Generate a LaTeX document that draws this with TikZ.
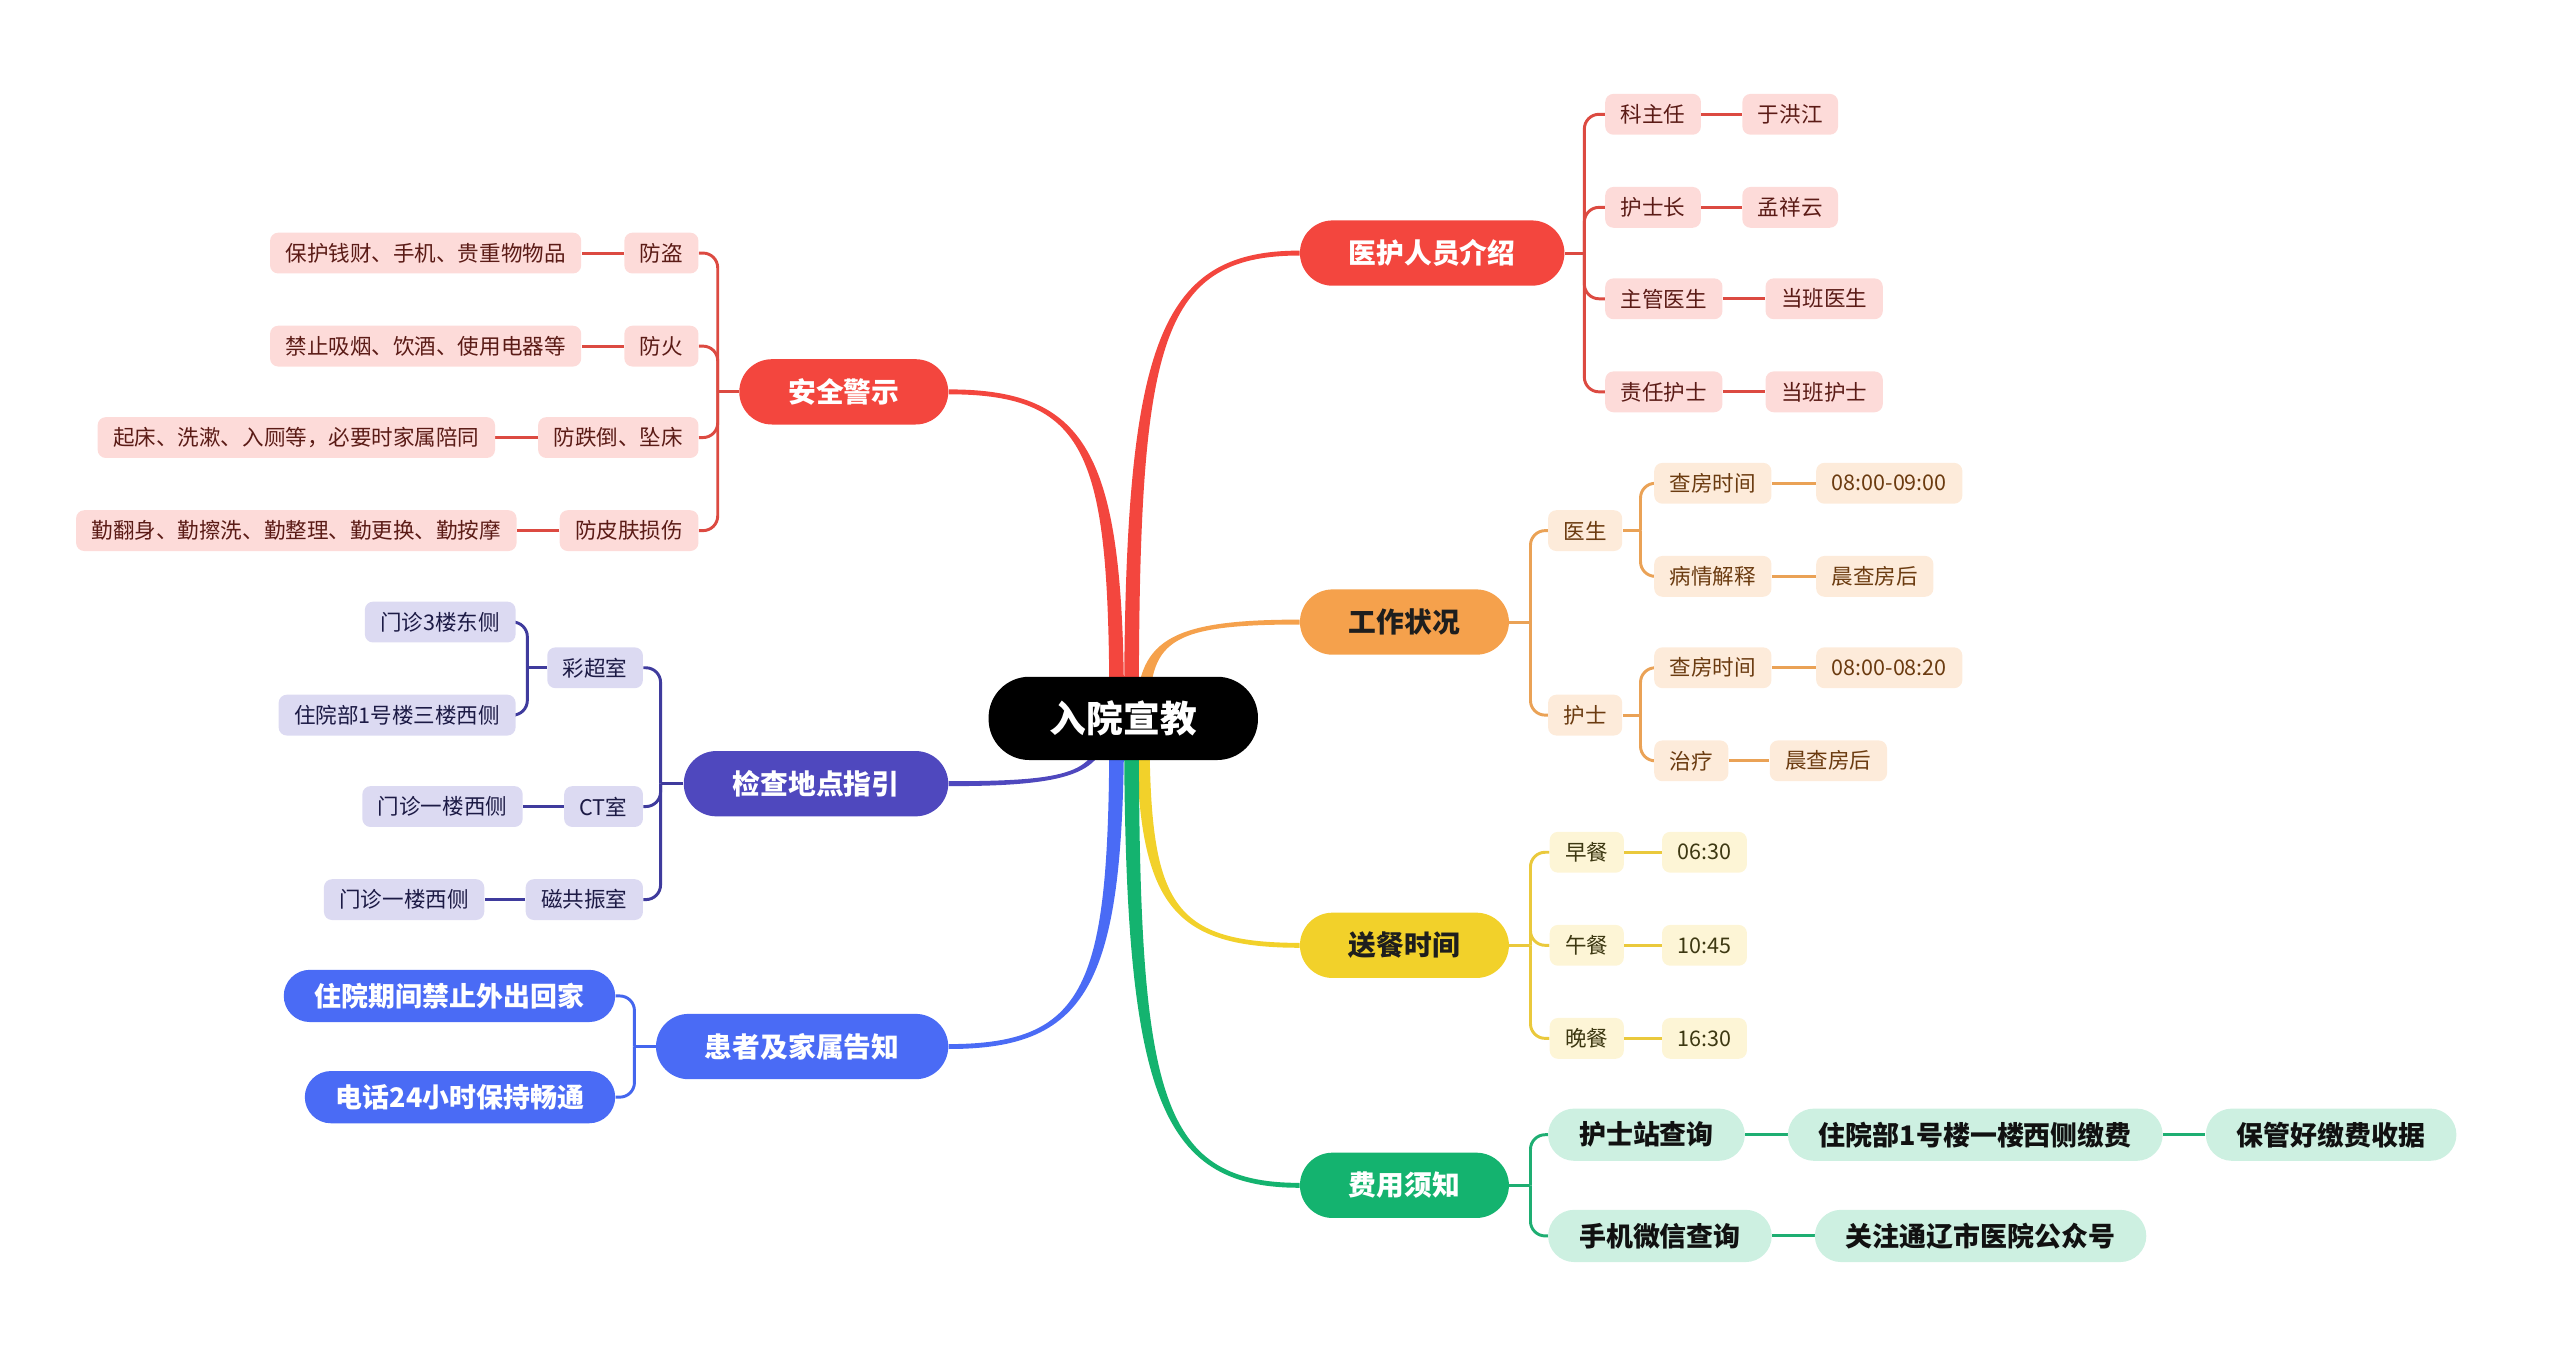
\documentclass[tikz,border=0pt]{standalone}
\usepackage{fontspec}
\setmainfont{Noto Sans CJK SC}
\usetikzlibrary{calc,backgrounds}
\definecolor{cRed}{HTML}{F3463E}
\definecolor{rFill}{HTML}{FDDBD9}
\definecolor{rText}{HTML}{5B1B16}
\definecolor{rLine}{HTML}{DC4A41}
\definecolor{cOrange}{HTML}{F5A14C}
\definecolor{oFill}{HTML}{FDEBDA}
\definecolor{oText}{HTML}{6B3B10}
\definecolor{oLine}{HTML}{EAA256}
\definecolor{cYellow}{HTML}{F2D12A}
\definecolor{yFill}{HTML}{FDF5D6}
\definecolor{yText}{HTML}{3D3812}
\definecolor{yLine}{HTML}{EAC93C}
\definecolor{cGreen}{HTML}{14B36F}
\definecolor{gFill}{HTML}{CDF0E1}
\definecolor{gText}{HTML}{111111}
\definecolor{gLine}{HTML}{1EAE72}
\definecolor{cIndigo}{HTML}{4F48BE}
\definecolor{iFill}{HTML}{DCDAF2}
\definecolor{iText}{HTML}{1C1A45}
\definecolor{iLine}{HTML}{3F3B9D}
\definecolor{cBlue}{HTML}{4A6BF5}
\definecolor{bLine}{HTML}{4466EE}
\definecolor{cDark}{HTML}{1E1E1E}
% tapered main connector: colour, start, end, start half width, end half width, side sign
\newcommand\taper[6]{%
  \fill[#1] let \p1=(#2), \p2=(#3) in
    (\x1-#4,\y1) .. controls (\x1-#4,{0.2*\y1+0.8*\y2}) and ({0.85*\x1+0.15*\x2},{\y2+(#6)*(#5)}) .. (\x2,{\y2+(#6)*(#5)})
    -- (\x2,{\y2-(#6)*(#5)}) .. controls ({0.85*\x1+0.15*\x2},{\y2-(#6)*(#5)}) and (\x1+#4,{0.2*\y1+0.8*\y2}) .. (\x1+#4,\y1) -- cycle;}
\begin{document}
\begin{tikzpicture}[x=1pt,y=-1pt,
  rootbox/.style={fill=black,text=white,rounded corners=25pt,minimum width=165pt,minimum height=51pt,inner sep=0pt,font=\bfseries\fontsize{22.5}{22.5}\selectfont},
  branch/.style={rounded corners=20pt,minimum height=40pt,inner xsep=30pt,inner ysep=0pt,font=\bfseries\fontsize{17}{17}\selectfont},
  leafbox/.style={rounded corners=5pt,minimum height=25pt,inner xsep=9.5pt,inner ysep=0pt,font=\fontsize{13.2}{13.2}\selectfont},
  bigleaf/.style={rounded corners=16pt,minimum height=32pt,inner xsep=19pt,inner ysep=0pt,font=\bfseries\fontsize{16.5}{16.5}\selectfont},
  redbox/.style={leafbox,fill=rFill,text=rText},
  orangebox/.style={leafbox,fill=oFill,text=oText},
  yellowbox/.style={leafbox,fill=yFill,text=yText},
  indigobox/.style={leafbox,fill=iFill,text=iText},
  greenbox/.style={bigleaf,fill=gFill,text=gText},
  bluebox/.style={bigleaf,fill=cBlue,text=white},
  conn/.style={line width=1.8pt},
  bracket/.style={conn,rounded corners=9pt},
  R/.style={anchor=west},
  L/.style={anchor=east}]
\useasboundingbox (0,0) rectangle (1568,831);

\node[rootbox] (root) at (688,440) {入院宣教};

% main branches
\node[branch,fill=cRed,text=white,R] (b1) at (796,155) {医护人员介绍};
\node[branch,fill=cOrange,text=cDark,R] (b2) at (796,381) {工作状况};
\node[branch,fill=cYellow,text=cDark,R] (b3) at (796,579) {送餐时间};
\node[branch,fill=cGreen,text=white,R] (b4) at (796,726) {费用须知};
\node[branch,fill=cRed,text=white,L] (b5) at (581,240) {安全警示};
\node[branch,fill=cIndigo,text=white,L] (b6) at (581,480) {检查地点指引};
\node[branch,fill=cBlue,text=white,L] (b7) at (581,641) {患者及家属告知};

% b1 children
\node[redbox,R] (b1a) at (983,70) {科主任};
\node[redbox,R] (b1b) at (983,127) {护士长};
\node[redbox,R] (b1c) at (983,183) {主管医生};
\node[redbox,R] (b1d) at (983,240) {责任护士};
\node[redbox,R] (b1a1) at ([xshift=25pt]b1a.east) {于洪江};
\node[redbox,R] (b1b1) at ([xshift=25pt]b1b.east) {孟祥云};
\node[redbox,R] (b1c1) at ([xshift=26pt]b1c.east) {当班医生};
\node[redbox,R] (b1d1) at ([xshift=26pt]b1d.east) {当班护士};

% b2 children
\node[orangebox,R] (b2a) at (948,325) {医生};
\node[orangebox,R] (b2b) at (948,438) {护士};
\node[orangebox,R] (b2a1) at (1013,296) {查房时间};
\node[orangebox,R] (b2a2) at (1013,353) {病情解释};
\node[orangebox,R] (b2b1) at (1013,409) {查房时间};
\node[orangebox,R] (b2b2) at (1013,466) {治疗};
\node[orangebox,R] (b2a1x) at ([xshift=27pt]b2a1.east) {08:00-09:00};
\node[orangebox,R] (b2a2x) at ([xshift=27pt]b2a2.east) {晨查房后};
\node[orangebox,R] (b2b1x) at ([xshift=27pt]b2b1.east) {08:00-08:20};
\node[orangebox,R] (b2b2x) at ([xshift=25pt]b2b2.east) {晨查房后};

% b3 children
\node[yellowbox,R] (b3a) at (949,522) {早餐};
\node[yellowbox,R] (b3b) at (949,579) {午餐};
\node[yellowbox,R] (b3c) at (949,636) {晚餐};
\node[yellowbox,R] (b3a1) at ([xshift=23pt]b3a.east) {06:30};
\node[yellowbox,R] (b3b1) at ([xshift=23pt]b3b.east) {10:45};
\node[yellowbox,R] (b3c1) at ([xshift=23pt]b3c.east) {16:30};

% b4 children
\node[greenbox,R] (b4a) at (948,695) {护士站查询};
\node[greenbox,R] (b4b) at (948,757) {手机微信查询};
\node[greenbox,R] (b4a1) at ([xshift=26pt]b4a.east) {住院部1号楼一楼西侧缴费};
\node[greenbox,R] (b4a2) at ([xshift=26pt]b4a1.east) {保管好缴费收据};
\node[greenbox,R] (b4b1) at ([xshift=26pt]b4b.east) {关注通辽市医院公众号};

% b5 children
\node[redbox,L] (b5a) at (428,155) {防盗};
\node[redbox,L] (b5b) at (428,212) {防火};
\node[redbox,L] (b5c) at (428,268) {防跌倒、坠床};
\node[redbox,L] (b5d) at (428,325) {防皮肤损伤};
\node[redbox,L] (b5a1) at ([xshift=-26pt]b5a.west) {保护钱财、手机、贵重物物品};
\node[redbox,L] (b5b1) at ([xshift=-26pt]b5b.west) {禁止吸烟、饮酒、使用电器等};
\node[redbox,L] (b5c1) at ([xshift=-26pt]b5c.west) {起床、洗漱、入厕等，必要时家属陪同};
\node[redbox,L] (b5d1) at ([xshift=-26pt]b5d.west) {勤翻身、勤擦洗、勤整理、勤更换、勤按摩};

% b6 children
\node[indigobox,L] (b6a) at (394,409) {彩超室};
\node[indigobox,L] (b6b) at (394,494) {CT室};
\node[indigobox,L] (b6c) at (394,551) {磁共振室};
\node[indigobox,L] (b6a1) at (316,381) {门诊3楼东侧};
\node[indigobox,L] (b6a2) at (316,438) {住院部1号楼三楼西侧};
\node[indigobox,L] (b6b1) at ([xshift=-25pt]b6b.west) {门诊一楼西侧};
\node[indigobox,L] (b6c1) at ([xshift=-25pt]b6c.west) {门诊一楼西侧};

% b7 children
\node[bluebox,L] (b7a) at (377,610) {住院期间禁止外出回家};
\node[bluebox,L] (b7b) at (377,672) {电话24小时保持畅通};

\begin{pgfonlayer}{background}
  % main tapered connectors
  \taper{cRed}{$(root.center)+(5,0)$}{b1.west}{4.5pt}{1.5pt}{1}
  \taper{cOrange}{$(root.center)+(12,0)$}{b2.west}{4pt}{1.5pt}{1}
  \taper{cYellow}{$(root.center)+(12,0)$}{b3.west}{4pt}{1.5pt}{-1}
  \taper{cGreen}{$(root.center)+(5,0)$}{b4.west}{4.5pt}{1.5pt}{-1}
  \taper{cRed}{$(root.center)+(-4,0)$}{b5.east}{4.5pt}{1.5pt}{-1}
  \taper{cIndigo}{$(root.center)+(-12,0)$}{b6.east}{2.5pt}{1.5pt}{1}
  \taper{cBlue}{$(root.center)+(-4,0)$}{b7.east}{4.5pt}{1.5pt}{1}

  % b1
  \draw[conn,rLine] (b1.east) -- ++(12,0) coordinate (j1);
  \foreach \c in {b1a,b1b,b1c,b1d} \draw[bracket,rLine] (j1) |- (\c.west);
  \foreach \a/\b in {b1a/b1a1,b1b/b1b1,b1c/b1c1,b1d/b1d1} \draw[conn,rLine] (\a.east) -- (\b.west);

  % b2
  \draw[conn,oLine] (b2.east) -- ++(13,0) coordinate (j2);
  \foreach \c in {b2a,b2b} \draw[bracket,oLine] (j2) |- (\c.west);
  \draw[conn,oLine] (b2a.east) -- ++(11,0) coordinate (j2a);
  \foreach \c in {b2a1,b2a2} \draw[bracket,oLine] (j2a) |- (\c.west);
  \draw[conn,oLine] (b2b.east) -- ++(11,0) coordinate (j2b);
  \foreach \c in {b2b1,b2b2} \draw[bracket,oLine] (j2b) |- (\c.west);
  \foreach \a/\b in {b2a1/b2a1x,b2a2/b2a2x,b2b1/b2b1x,b2b2/b2b2x} \draw[conn,oLine] (\a.east) -- (\b.west);

  % b3
  \draw[conn,yLine] (b3.east) -- ++(13,0) coordinate (j3);
  \foreach \c in {b3a,b3b,b3c} \draw[bracket,yLine] (j3) |- (\c.west);
  \foreach \a/\b in {b3a/b3a1,b3b/b3b1,b3c/b3c1} \draw[conn,yLine] (\a.east) -- (\b.west);

  % b4
  \draw[conn,gLine] (b4.east) -- ++(13,0) coordinate (j4);
  \foreach \c in {b4a,b4b} \draw[bracket,gLine] (j4) |- (\c.west);
  \foreach \a/\b in {b4a/b4a1,b4a1/b4a2,b4b/b4b1} \draw[conn,gLine] (\a.east) -- (\b.west);

  % b5
  \draw[conn,rLine] (b5.west) -- ++(-13,0) coordinate (j5);
  \foreach \c in {b5a,b5b,b5c,b5d} \draw[bracket,rLine] (j5) |- (\c.east);
  \foreach \a/\b in {b5a/b5a1,b5b/b5b1,b5c/b5c1,b5d/b5d1} \draw[conn,rLine] (\a.west) -- (\b.east);

  % b6
  \draw[conn,iLine] (b6.west) -- ++(-14,0) coordinate (j6);
  \foreach \c in {b6a,b6b,b6c} \draw[bracket,iLine] (j6) |- (\c.east);
  \draw[conn,iLine] (b6a.west) -- ++(-12,0) coordinate (j6a);
  \foreach \c in {b6a1,b6a2} \draw[bracket,iLine] (j6a) |- (\c.east);
  \foreach \a/\b in {b6b/b6b1,b6c/b6c1} \draw[conn,iLine] (\a.west) -- (\b.east);

  % b7
  \draw[conn,bLine] (b7.west) -- ++(-13,0) coordinate (j7);
  \foreach \c in {b7a,b7b} \draw[bracket,bLine] (j7) |- (\c.east);
\end{pgfonlayer}
\end{tikzpicture}
\end{document}
